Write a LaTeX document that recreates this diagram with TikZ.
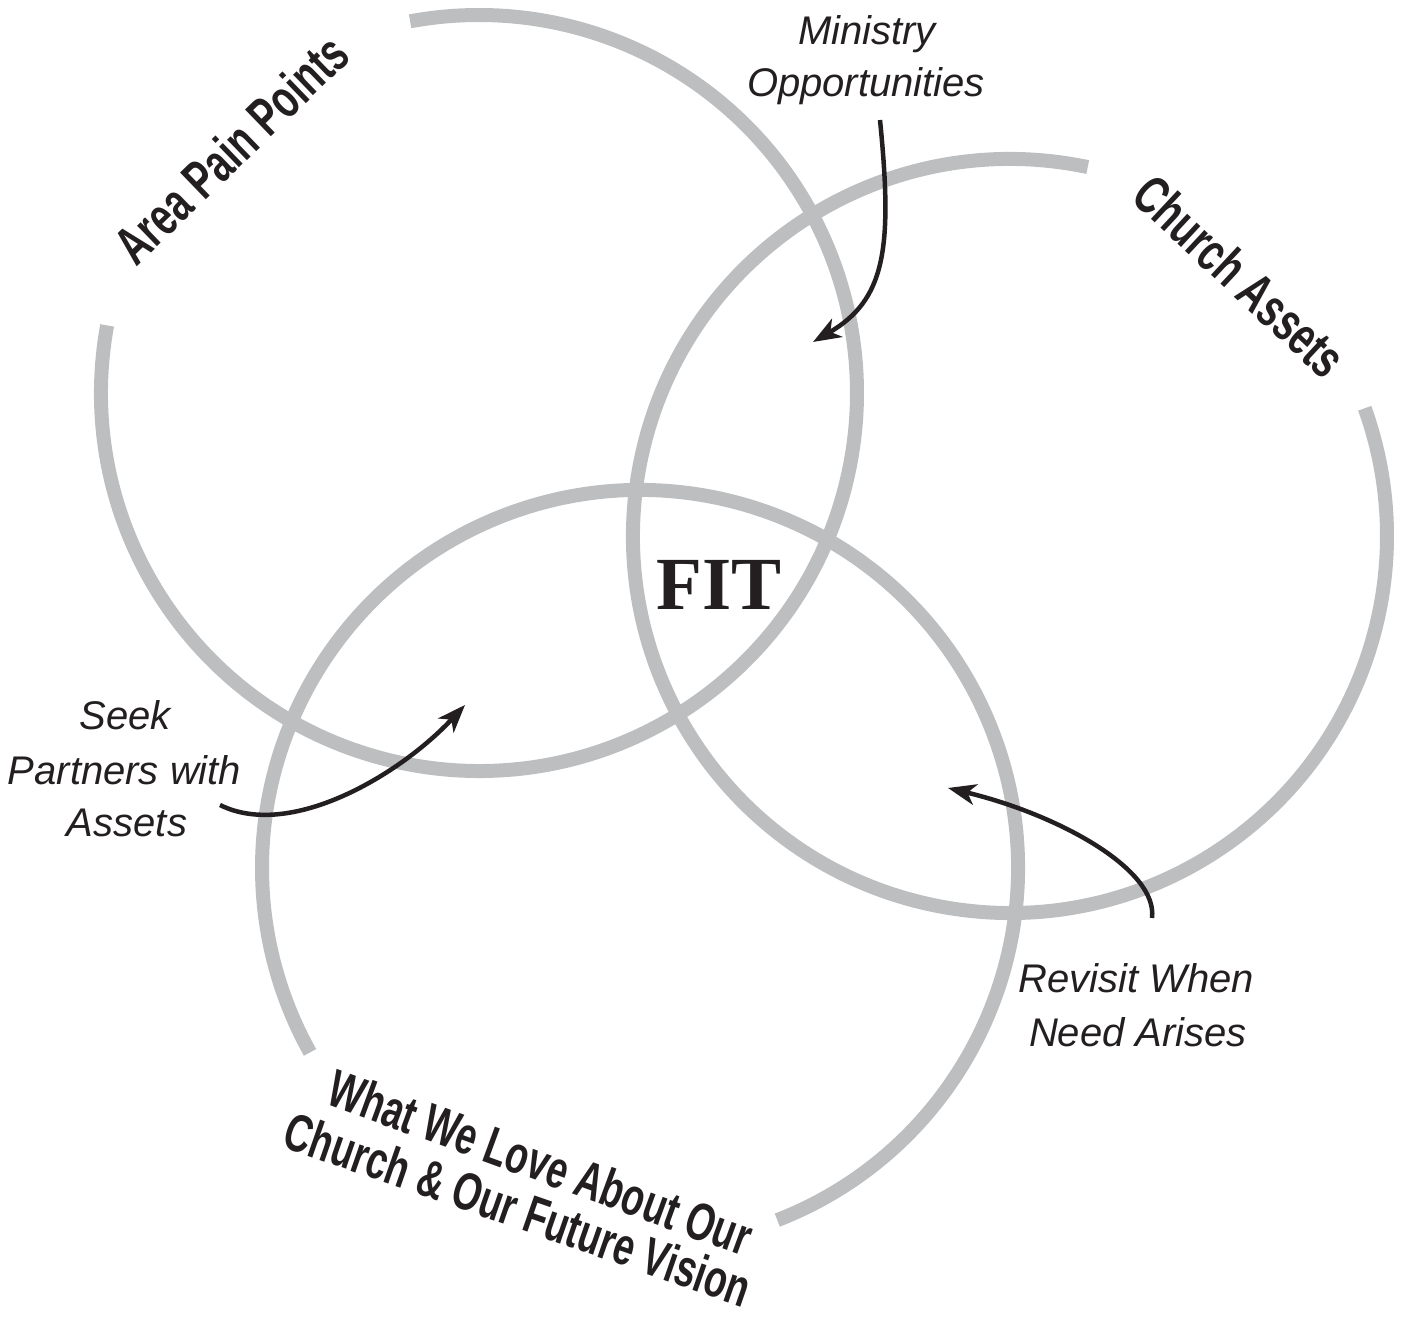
\documentclass[tikz,border=0pt]{standalone}
\usepackage{fontspec}
\setmainfont{Liberation Sans}
\newfontfamily\condfont{Liberation Sans}[FakeStretch=0.7]
\newfontfamily\itfont{Liberation Sans}
\newfontfamily\fitfont{Liberation Serif}
\usetikzlibrary{arrows.meta,calc}
\definecolor{ringgray}{HTML}{BCBEC0}
\definecolor{ink}{HTML}{231F20}
\newcommand\bigcond{\condfont\bfseries\fontsize{54}{60}\selectfont}
\begin{document}
\begin{tikzpicture}[x=1pt,y=1pt,
  ring/.style={draw=ringgray,line width=14pt},
  arr/.style={draw=ink,line width=4.5pt,-{Stealth[length=28pt,width=21pt,inset=8pt]}},
  lab/.style={font=\itfont\itshape\fontsize{40}{48}\selectfont,text=ink,inner sep=0pt,anchor=base},
  big/.style={font=\bigcond,text=ink,inner sep=0pt}
]
\useasboundingbox (0,0) rectangle (1401,1321);
% circle centres
\coordinate (c1) at (479,928);
\coordinate (c2) at (1010,785);
\coordinate (c3) at (640,453);
% rings
\draw[ring] ($(c1)+(169.7:378)$) arc[start angle=169.7,end angle=460.5,radius=378];
\draw[ring] ($(c2)+(78.1:377)$) arc[start angle=78.1,end angle=379.8,radius=377];
\draw[ring] ($(c3)+(291.3:378)$) arc[start angle=291.3,end angle=569.2,radius=378];
% ring titles
\node[big,rotate=44] (area) at (231,1172) {Area Pain Points};
\node[big,rotate=-43] (church) at (1240,1045) {Church Assets};
\node[big,font=\condfont\bfseries\fontsize{53}{60}\selectfont,anchor=base,rotate=-20.1] (love1) at (534,141) {What We Love About Our};
\node[big,font=\condfont\bfseries\fontsize{53}{60}\selectfont,anchor=base,rotate=-19.2] (love2) at (512,94) {Church \& Our Future Vision};
% centre
\node[font=\fitfont\bfseries\fontsize{75}{80}\selectfont,text=ink,anchor=base,inner sep=0pt] (fit) at (719,711) {FIT};
% labels
\node[lab] (min1) at (867,1276) {Ministry};
\node[lab] (min2) at (866,1224) {Opportunities};
\node[lab] (seek1) at (125,591) {Seek};
\node[lab] (seek2) at (124.5,536) {Partners with};
\node[lab] (seek3) at (127,484) {Assets};
\node[lab] (rev1) at (1136,328) {Revisit When};
\node[lab] (rev2) at (1138,274) {Need Arises};
% arrows
\coordinate (a1s) at (880,1201);
\coordinate (a1e) at (813,979);
\coordinate (a2s) at (220,516);
\coordinate (a2e) at (465,616);
\coordinate (a3s) at (1152,403);
\coordinate (a3e) at (948,533);
\draw[arr] (a1s) .. controls (893,1071) and (885,1021) .. (a1e);
\draw[arr] (a2s) .. controls (290,481) and (400,546) .. (a2e);
\draw[arr] (a3s) .. controls (1158,451) and (1060,506) .. (a3e);
\end{tikzpicture}
\end{document}
